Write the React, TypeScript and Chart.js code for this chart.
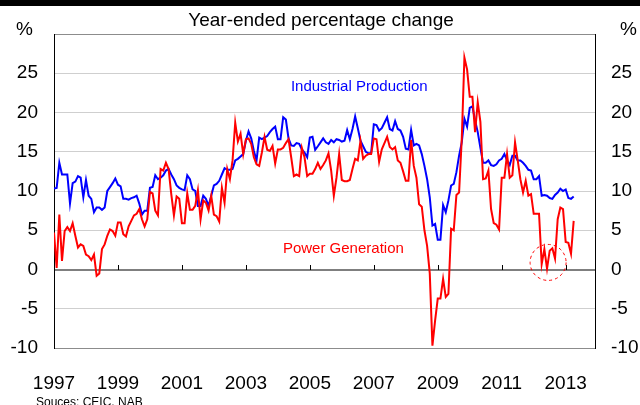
import React, { useEffect, useRef } from 'react';
import { Chart, registerables } from 'chart.js';

Chart.register(...registerables);

// Monthly observations starting January 1997 (index 0 = Jan 1997)
const START_YEAR = 1997;
const X_MAX_MONTHS = 203;
const YEAR_STEP_MONTHS = 24;

const industrialProduction: number[] = [
  10.3, 10.4, 13.6, 12.1, 12.1, 12.1, 8.4, 11.0, 11.2, 11.9,
  11.7, 9.2, 11.4, 9.4, 9.0, 7.3, 7.9, 7.9, 7.6, 7.9,
  10.0, 10.5, 11.0, 11.6, 10.8, 10.6, 9.0, 9.0, 8.9, 9.1,
  9.2, 9.4, 8.4, 7.0, 7.5, 7.5, 10.4, 10.5, 12.0, 11.5,
  11.7, 12.0, 12.6, 12.8, 12.1, 11.5, 10.7, 10.4, 10.2, 10.1,
  12.0, 11.5, 10.2, 10.0, 8.1, 8.1, 9.4, 9.0, 8.1, 9.4,
  10.7, 10.9, 11.3, 12.1, 12.9, 12.7, 12.7, 12.8, 13.9, 14.1,
  14.4, 14.7, 16.4, 17.6, 16.7, 15.1, 13.9, 16.8, 16.6, 16.8,
  17.0, 17.5, 17.9, 18.2, 16.6, 16.6, 19.4, 19.1, 16.7, 15.8,
  15.75, 16.1, 16.0, 15.3, 14.9, 14.3, 16.8, 16.9, 15.25, 15.7,
  16.2, 16.7, 16.2, 16.0, 16.5, 16.2, 16.6, 16.5, 16.3, 16.4,
  17.75, 16.6, 17.9, 19.5, 18.0, 16.4, 15.7, 15.0, 14.8,
  14.8, 18.5, 18.4, 17.7, 18.0, 18.7, 19.4, 17.9, 17.7, 18.9,
  17.9, 17.7, 16.9, 15.4, 15.3, 17.8, 15.8, 16.0, 15.8, 14.7,
  13.2, 11.5, 9.2, 5.6, 5.8, 3.8, 3.8, 8.2, 7.3, 8.8,
  10.7, 10.9, 12.4, 14.5, 16.2, 19.2, 18.2, 20.6, 20.8,
  19.0, 17.5, 15.5, 13.6, 13.6, 13.9, 13.3, 13.2, 13.4, 13.9,
  14.1, 14.7, 13.9, 13.3, 14.5, 14.5, 13.9, 13.9, 13.6, 13.2,
  12.7, 12.6, 11.5, 11.5, 11.9, 9.4, 9.5, 9.4, 9.1, 9.0,
  9.5, 9.8, 10.3, 10.0, 10.2, 9.1, 9.0, 9.3,
];

const powerGeneration: number[] = [
  4.7, 0.2, 7.0, 1.1, 4.9, 5.4, 4.9, 5.9, 4.3, 2.8,
  3.2, 3.0, 1.9, 1.7, 1.2, 1.9, -0.8, -0.5, 2.6, 3.2,
  4.3, 5.1, 4.9, 4.3, 6.0, 6.0, 4.5, 4.2, 5.5, 6.2,
  6.9, 7.1, 7.7, 6.4, 5.5, 6.4, 9.9, 9.7, 7.5, 6.9,
  12.8, 12.6, 13.6, 12.8, 9.6, 6.9, 9.3, 9.0, 5.9, 5.9,
  9.7, 7.6, 7.6, 8.1, 10.1, 6.4, 8.8, 8.5, 7.5, 9.4,
  7.0, 6.8, 6.1, 10.4, 8.5, 12.8, 11.5, 13.9, 18.7, 16.3,
  17.3, 14.7, 16.6, 16.7, 16.0, 14.3, 13.4, 13.2, 14.9, 16.9,
  15.25, 15.1, 15.75, 13.5, 15.3, 15.3, 15.5, 16.1, 16.6, 14.3,
  11.9, 12.1, 11.9, 15.5, 14.3, 11.9, 12.2, 12.2, 12.8, 13.6,
  12.8, 13.3, 13.9, 14.8, 12.6, 9.4, 11.7, 14.7, 11.4, 11.25,
  11.25, 11.4, 12.8, 14.1, 13.9, 16.4, 14.1, 14.5, 14.7,
  14.7, 16.7, 16.6, 13.7, 15.3, 16.1, 16.9, 15.6, 15.3, 15.6,
  13.9, 13.6, 12.5, 11.3, 11.3, 16.5, 13.2, 11.7, 8.3, 8.0,
  5.0, 3.0, -0.5, -9.7, -6.5, -3.7, -3.7, -1.2, -3.5, -3.1,
  5.2, 5.0, 9.5, 9.8, 16.6, 27.0, 25.5, 22.0, 22.0,
  17.5, 21.3, 18.8, 11.5, 11.6, 12.6, 7.7, 5.9, 5.7, 5.1,
  11.7, 11.7, 14.7, 11.7, 12.0, 16.2, 13.9, 11.5, 9.8, 11.3,
  9.4, 9.6, 7.1, 7.1, 7.1, 0.7, 2.6, 0.1, 2.4, 2.7,
  1.4, 6.4, 7.9, 7.7, 3.5, 3.4, 2.0, 6.2,
];

const Y_MIN = -10;
const Y_MAX = 30;
const Y_STEP = 5;
const hiddenYTickLabels = [30];

const TITLE = 'Year-ended percentage change';
const UNIT_LABEL = '%';
const SOURCE = 'Souces: CEIC, NAB';
const IP_LABEL = 'Industrial Production';
const PG_LABEL = 'Power Generation';

const FONT = "'Liberation Sans', Arial, Helvetica, sans-serif";

const toPoints = (arr: number[]) => arr.map((v, i) => ({ x: i, y: v }));

const overlayPlugin = {
  id: 'overlay',
  beforeDatasetsDraw(chart: any) {
    const { ctx, scales } = chart;
    const x = scales.x;
    const y = scales.y;
    const y0 = Math.round(y.getPixelForValue(0));
    ctx.save();
    ctx.strokeStyle = '#000';
    ctx.lineWidth = 1;
    for (const t of x.ticks) {
      if (t.value === 0) continue;
      const px = Math.round(x.getPixelForValue(t.value)) + 0.5;
      ctx.beginPath();
      ctx.moveTo(px, y0);
      ctx.lineTo(px, y0 - 5);
      ctx.stroke();
    }
    ctx.restore();
  },
  afterDraw(chart: any) {
    const { ctx, scales, width } = chart;
    const x = scales.x;
    const y = scales.y;
    ctx.save();
    // top black strip
    ctx.fillStyle = '#000';
    ctx.fillRect(0, 0, width, 6);

    ctx.fillStyle = '#000';
    ctx.font = `19px ${FONT}`;
    ctx.textBaseline = 'middle';
    ctx.textAlign = 'center';
    ctx.fillText(TITLE, 321, 21);
    ctx.textAlign = 'left';
    ctx.fillText(UNIT_LABEL, 16, 30);
    ctx.fillText(UNIT_LABEL, 620, 30);

    ctx.font = `12px ${FONT}`;
    ctx.textBaseline = 'top';
    ctx.fillText(SOURCE, 36, 397);

    ctx.font = `15px ${FONT}`;
    ctx.textBaseline = 'middle';
    ctx.textAlign = 'left';
    ctx.fillStyle = '#0000ff';
    ctx.fillText(IP_LABEL, x.getPixelForValue(88.9), y.getPixelForValue(23.25));
    ctx.fillStyle = '#ff0000';
    ctx.fillText(PG_LABEL, x.getPixelForValue(85.9), y.getPixelForValue(2.6));

    // dashed circle
    ctx.strokeStyle = '#ff0000';
    ctx.lineWidth = 1;
    ctx.setLineDash([3, 3]);
    ctx.beginPath();
    ctx.arc(x.getPixelForValue(185.4), y.getPixelForValue(0.9), 18, 0, Math.PI * 2);
    ctx.stroke();
    ctx.restore();
  },
};

export default function App() {
  const canvasRef = useRef<HTMLCanvasElement | null>(null);

  useEffect(() => {
    document.body.style.margin = '0';
    const canvas = canvasRef.current;
    if (!canvas) return;
    const chart = new Chart(canvas, {
      type: 'line',
      data: {
        datasets: [
          {
            label: IP_LABEL,
            data: toPoints(industrialProduction),
            borderColor: '#0000ff',
            borderWidth: 2,
            pointRadius: 0,
            tension: 0,
            fill: false,
            order: 1,
          },
          {
            label: PG_LABEL,
            data: toPoints(powerGeneration),
            borderColor: '#ff0000',
            borderWidth: 2,
            pointRadius: 0,
            tension: 0,
            fill: false,
            order: 0,
          },
        ],
      },
      options: {
        responsive: false,
        animation: false,
        devicePixelRatio: 1,
        layout: { padding: { top: 34, left: 0, right: 0, bottom: 0 } },
        plugins: {
          legend: { display: false },
          tooltip: { enabled: false },
          title: { display: false },
        },
        scales: {
          x: {
            type: 'linear',
            min: 0,
            max: X_MAX_MONTHS,
            grid: { display: false, drawTicks: false },
            border: { display: false },
            ticks: {
              stepSize: YEAR_STEP_MONTHS,
              includeBounds: false,
              autoSkip: false,
              maxRotation: 0,
              padding: 24,
              color: '#000',
              font: { family: FONT, size: 19 },
              callback: (v: any) => (Number(v) % YEAR_STEP_MONTHS === 0 ? String(START_YEAR + Number(v) / 12) : ''),
            },
            afterFit: (s: any) => {
              s.height = 57;
            },
          },
          y: {
            position: 'left',
            min: Y_MIN,
            max: Y_MAX,
            border: { display: true, color: '#000', width: 1 },
            grid: {
              drawTicks: false,
              color: (c: any) => {
                const v = c.tick.value;
                if (v === 0) return '#7f7f7f';
                if (v === Y_MAX || v === Y_MIN) return '#8c8c8c';
                return '#cfcfcf';
              },
              lineWidth: (c: any) => (c.tick.value === 0 ? 2 : 1),
            },
            ticks: {
              stepSize: Y_STEP,
              padding: 16,
              color: '#000',
              font: { family: FONT, size: 19 },
              callback: (v: any) => (hiddenYTickLabels.includes(Number(v)) ? '' : String(v)),
            },
            afterFit: (s: any) => {
              s.width = 54;
            },
          },
          y2: {
            position: 'right',
            min: Y_MIN,
            max: Y_MAX,
            border: { display: true, color: '#000', width: 1 },
            grid: { drawOnChartArea: false, drawTicks: false },
            ticks: {
              stepSize: Y_STEP,
              padding: 16,
              color: '#000',
              font: { family: FONT, size: 19 },
              callback: (v: any) => (hiddenYTickLabels.includes(Number(v)) ? '' : String(v)),
            },
            afterFit: (s: any) => {
              s.width = 45;
            },
          },
        },
      },
      plugins: [overlayPlugin],
    });
    return () => chart.destroy();
  }, []);

  return (
    <div style={{ width: 640, height: 405, background: '#fff' }}>
      <canvas ref={canvasRef} width={640} height={405} style={{ width: 640, height: 405, display: 'block' }} />
    </div>
  );
}
